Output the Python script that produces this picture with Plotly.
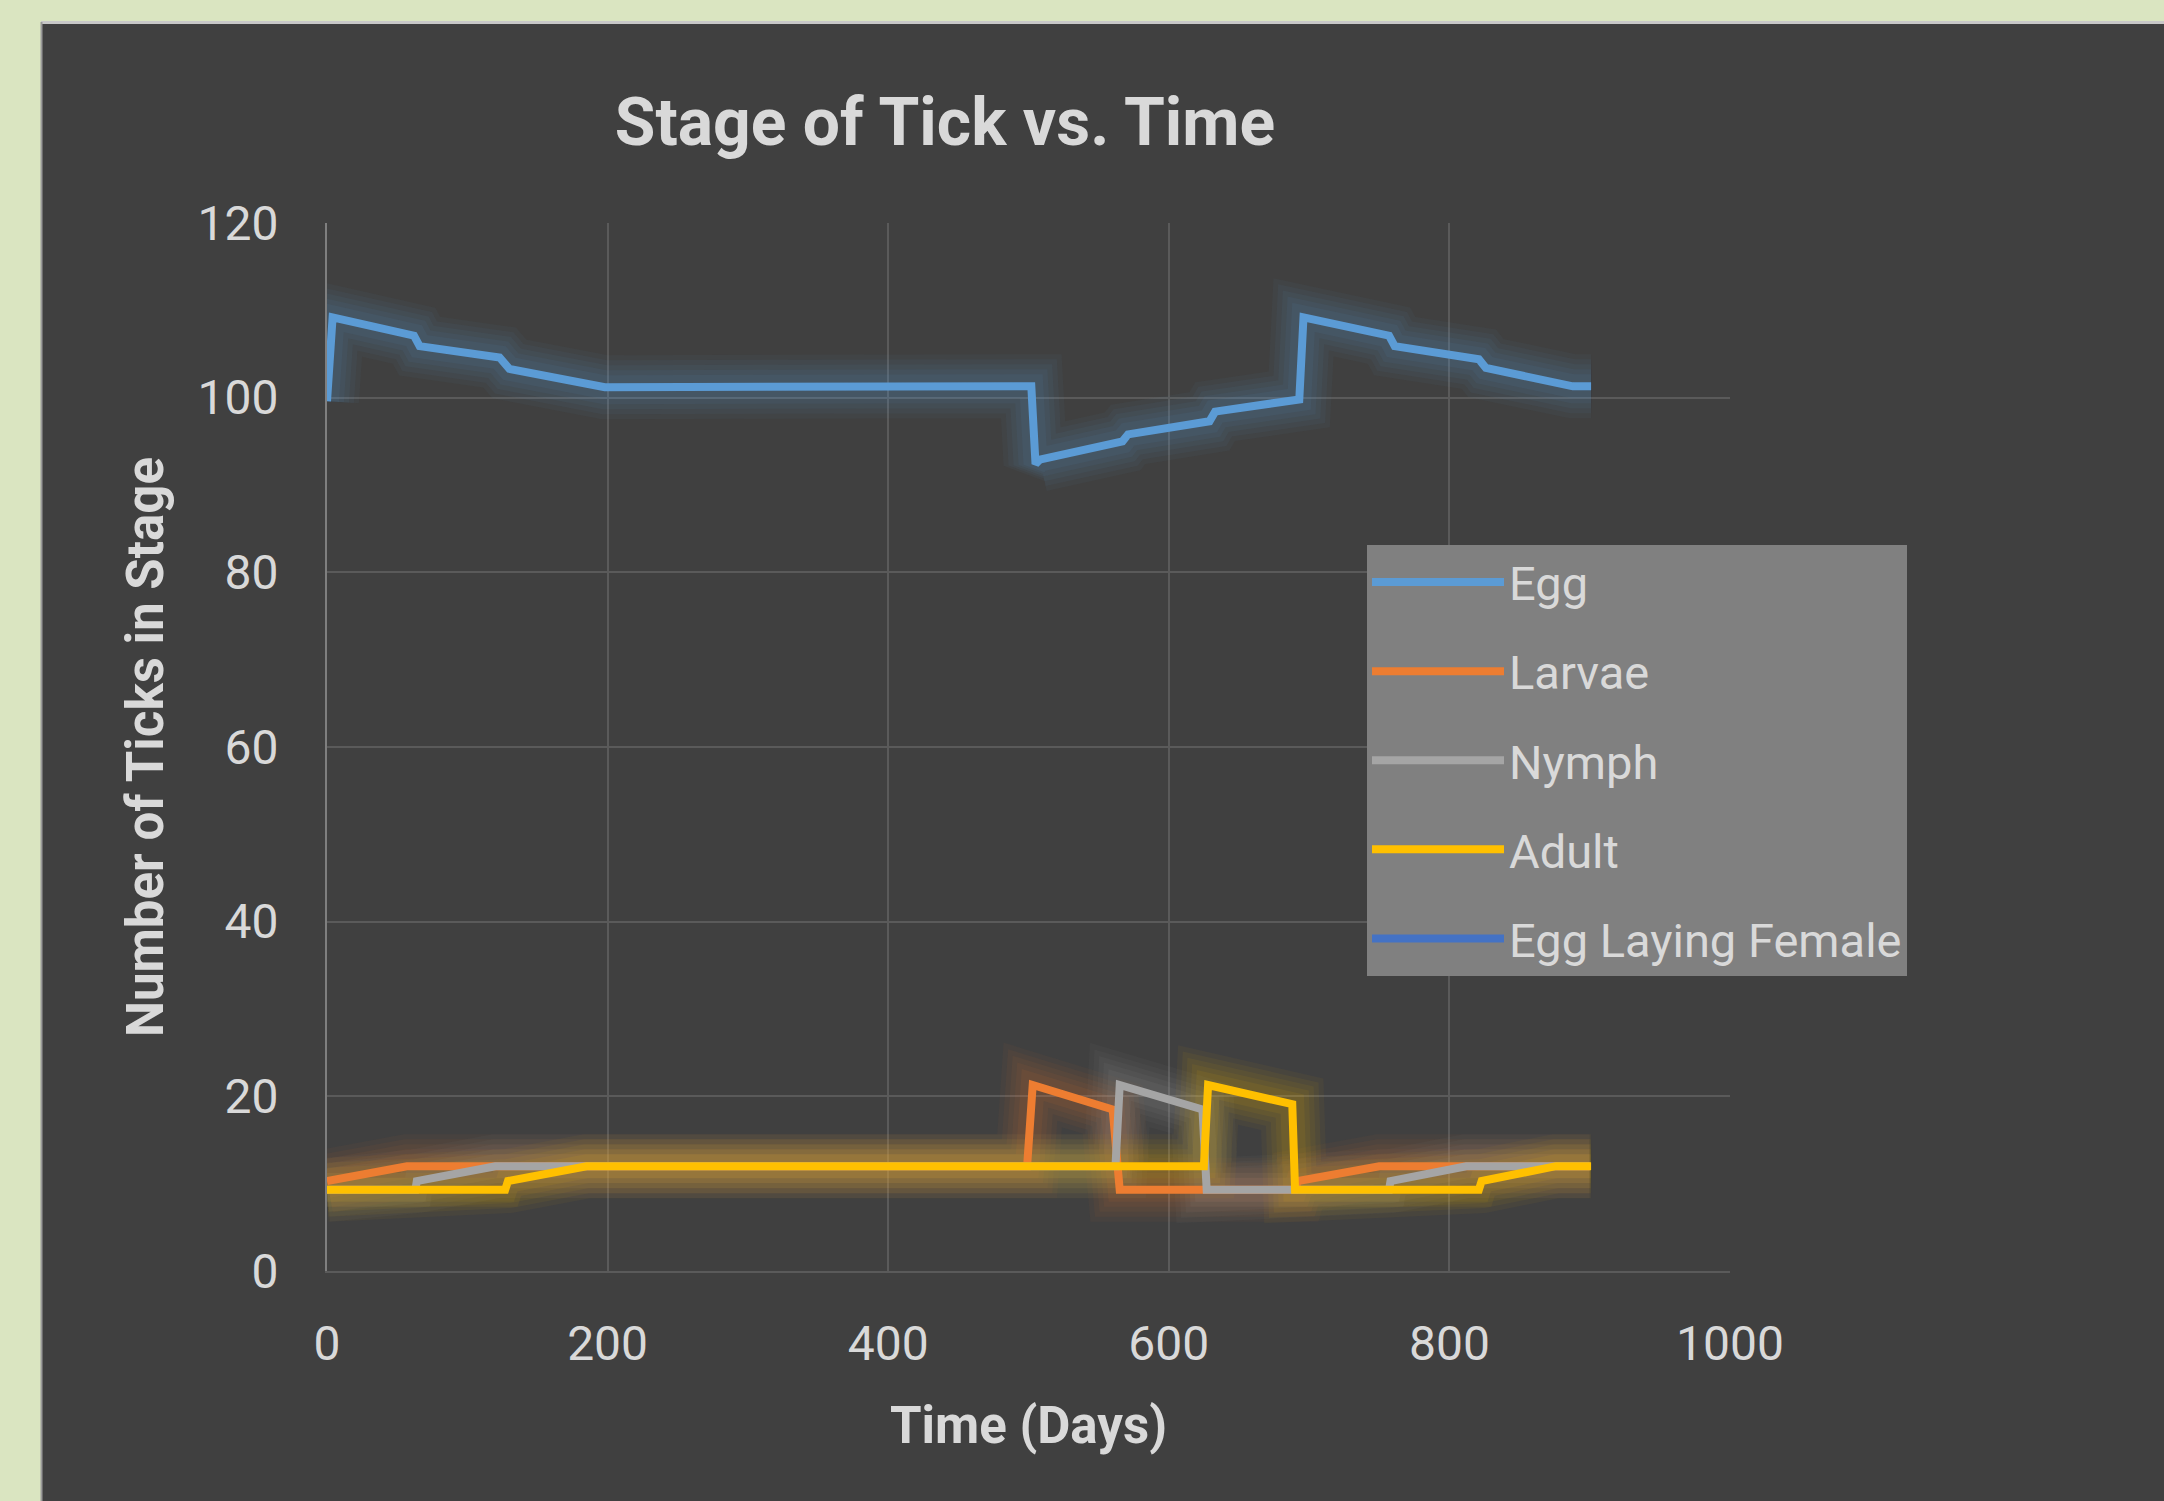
import plotly.graph_objects as go

# ---------------- data ----------------
egg_x = [0, 4, 62, 66, 123, 130, 198, 502, 505, 508, 567, 571, 629, 633, 693, 696, 757, 761, 821, 826, 888, 901]
egg_y = [99.6, 109.2, 107.1, 105.9, 104.6, 103.3, 101.2, 101.3, 92.4, 92.9, 95.0, 95.8, 97.3, 98.4, 99.8, 109.2, 107.1, 105.9, 104.4, 103.4, 101.3, 101.3]

larvae_x = [0, 57, 499, 503, 560, 565, 690, 692, 750, 900]
larvae_y = [10.3, 12.0, 12.0, 21.3, 18.5, 9.3, 9.3, 10.3, 12.0, 12.0]

nymph_x = [0, 63, 64, 120, 562, 565, 624, 627, 757, 758, 812, 900]
nymph_y = [9.3, 9.3, 10.3, 12.0, 12.0, 21.3, 18.5, 9.3, 9.3, 10.3, 12.0, 12.0]

adult_x = [0, 127, 129, 185, 625, 628, 688, 690, 821, 823, 876, 901]
adult_y = [9.3, 9.3, 10.3, 12.0, 12.0, 21.3, 19.1, 9.3, 9.3, 10.3, 12.0, 12.0]

# no visible data for this series in the chart (legend entry only)
female_x = [None]
female_y = [None]

series_names = ["Egg", "Larvae", "Nymph", "Adult", "Egg Laying Female"]
series_colors = ["#5B9BD5", "#ED7D31", "#A5A5A5", "#FFC000", "#4472C4"]

x_ticks = [0, 200, 400, 600, 800, 1000]
y_ticks = [0, 20, 40, 60, 80, 100, 120]

title_text = "Stage of Tick vs. Time"
x_title = "Time (Days)"
y_title = "Number of Ticks in Stage"

# ---------------- figure ----------------
W, H = 2164, 1501
L, R, T, B = 327, 434, 223, 230
PW, PH = W - L - R, H - T - B

FONT = "Roboto, 'Open Sans', sans-serif"
TXT = "#D9D9D9"
PANEL = "#404040"
GREEN = "#DAE5C1"


def rgba(hex_color, a):
    h = hex_color.lstrip("#")
    r, g, b = int(h[0:2], 16), int(h[2:4], 16), int(h[4:6], 16)
    return f"rgba({r},{g},{b},{a})"


data = [
    (egg_x, egg_y),
    (larvae_x, larvae_y),
    (nymph_x, nymph_y),
    (adult_x, adult_y),
    (female_x, female_y),
]

fig = go.Figure()

# soft glow layers (drawn beneath the lines)
glow = [(64, 0.045), (54, 0.05), (44, 0.055), (34, 0.06), (24, 0.07)]
for (xs, ys), name, col in zip(data, series_names, series_colors):
    if all(v is None for v in ys):
        continue
    for w, a in glow:
        fig.add_trace(go.Scatter(
            x=xs, y=ys, mode="lines", showlegend=False, hoverinfo="skip",
            line=dict(color=rgba(col, a), width=w),
        ))

# main lines
for (xs, ys), name, col in zip(data, series_names, series_colors):
    fig.add_trace(go.Scatter(
        x=xs, y=ys, mode="lines", name=name, legendgroup=name,
        line=dict(color=col, width=8),
    ))

px = lambda v: (v - L) / PW          # full-pixel x -> paper
py = lambda v: (H - B - v) / PH      # full-pixel y -> paper

fig.update_layout(
    width=W, height=H,
    margin=dict(l=L, r=R, t=T, b=B, autoexpand=False),
    paper_bgcolor=GREEN,
    plot_bgcolor=PANEL,
    font=dict(family=FONT, color=TXT, size=48),
    title=dict(
        text=f"<b>{title_text}</b>", font=dict(size=66, color=TXT, family=FONT),
        x=945 / W, xanchor="center", xref="container",
        y=1 - 121.5 / H, yanchor="middle", yref="container",
    ),
    xaxis=dict(
        range=[0, 1000], tickvals=x_ticks, ticktext=[str(v) for v in x_ticks],
        showgrid=True, gridcolor="#5A5A5A", gridwidth=1.5,
        zeroline=False, showline=True, linecolor="#5A5A5A", linewidth=2,
        ticks="", tickfont=dict(size=48, color=TXT, family=FONT), ticklabelstandoff=29,
        title=dict(text=f"<b>{x_title}</b>", font=dict(size=51, color=TXT, family=FONT), standoff=37),
        fixedrange=True,
    ),
    yaxis=dict(
        range=[0, 120], tickvals=y_ticks, ticktext=[str(v) for v in y_ticks],
        showgrid=True, gridcolor="#5A5A5A", gridwidth=1.5,
        zeroline=False, showline=True, linecolor="#7F7F7F", linewidth=2,
        ticks="", tickfont=dict(size=48, color=TXT, family=FONT), ticklabelstandoff=37,
        title=dict(text=f"<b>{y_title}</b>", font=dict(size=51, color=TXT, family=FONT), standoff=18),
        fixedrange=True,
    ),
    legend=dict(
        x=px(1367), y=py(545), xanchor="left", yanchor="top",
        bgcolor="#808080", borderwidth=0,
        font=dict(size=47, color=TXT, family=FONT),
        tracegroupgap=25, itemwidth=132,
    ),
    shapes=[
        dict(type="rect", xref="paper", yref="paper", layer="below",
             x0=px(41), x1=px(W + 20), y0=py(H + 20), y1=py(22),
             fillcolor=PANEL, line=dict(width=0)),
        dict(type="line", xref="paper", yref="paper", layer="below",
             x0=px(41), x1=px(W + 20), y0=py(22.5), y1=py(22.5),
             line=dict(color="#C8C8C8", width=3)),
        dict(type="line", xref="paper", yref="paper", layer="below",
             x0=px(41.5), x1=px(41.5), y0=py(22), y1=py(H + 20),
             line=dict(color="#9A9A9A", width=2)),
    ],
)

fig.write_html("out.html", config={"displayModeBar": False},
               post_script="document.body.style.margin='0';")
